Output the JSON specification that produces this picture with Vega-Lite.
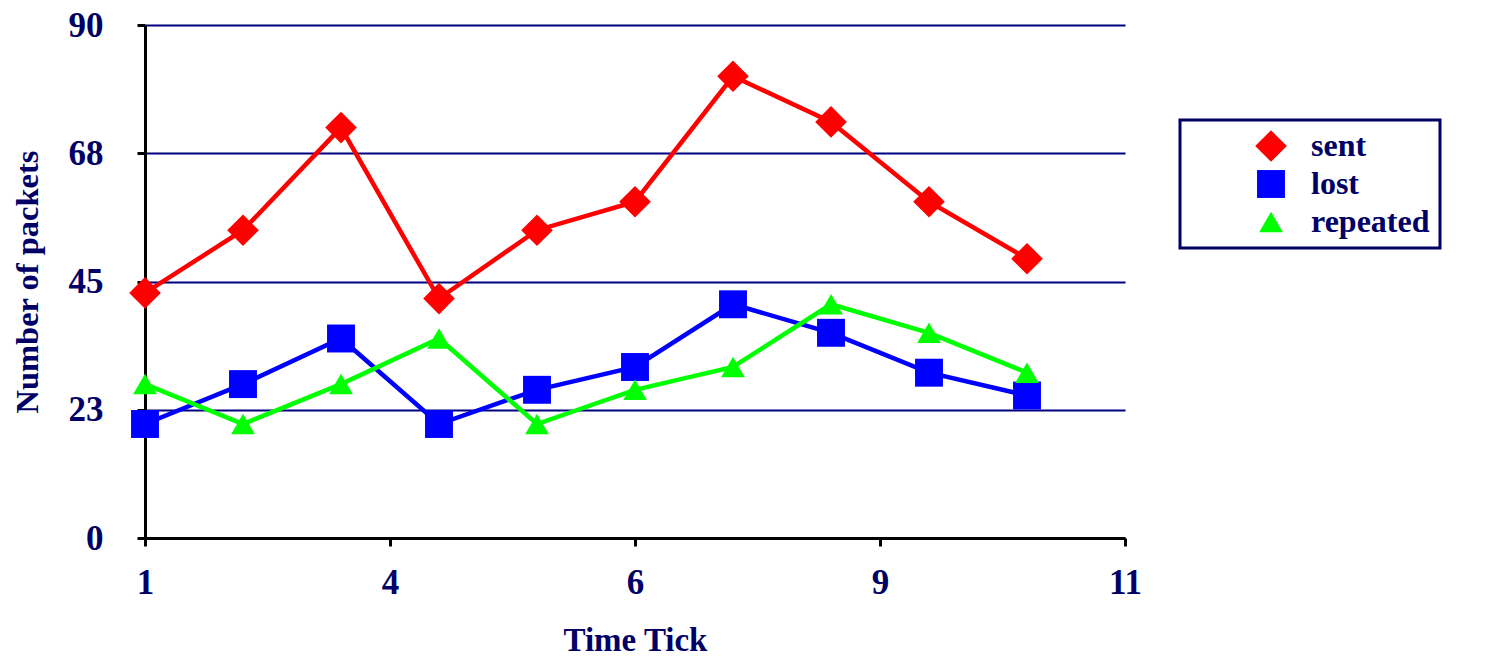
{
  "$schema": "https://vega.github.io/schema/vega-lite/v6.json",
  "autosize": "none",
  "width": 980,
  "height": 513,
  "padding": {"left": 145, "top": 25, "right": 386, "bottom": 120},
  "background": "white",
  "data": {
    "values": [
      {"t": 1, "series": "sent", "value": 43},
      {"t": 2, "series": "sent", "value": 54},
      {"t": 3, "series": "sent", "value": 72},
      {"t": 4, "series": "sent", "value": 42},
      {"t": 5, "series": "sent", "value": 54},
      {"t": 6, "series": "sent", "value": 59},
      {"t": 7, "series": "sent", "value": 81},
      {"t": 8, "series": "sent", "value": 73},
      {"t": 9, "series": "sent", "value": 59},
      {"t": 10, "series": "sent", "value": 49},
      {"t": 1, "series": "lost", "value": 20},
      {"t": 2, "series": "lost", "value": 27},
      {"t": 3, "series": "lost", "value": 35},
      {"t": 4, "series": "lost", "value": 20},
      {"t": 5, "series": "lost", "value": 26},
      {"t": 6, "series": "lost", "value": 30},
      {"t": 7, "series": "lost", "value": 41},
      {"t": 8, "series": "lost", "value": 36},
      {"t": 9, "series": "lost", "value": 29},
      {"t": 10, "series": "lost", "value": 25},
      {"t": 1, "series": "repeated", "value": 27},
      {"t": 2, "series": "repeated", "value": 20},
      {"t": 3, "series": "repeated", "value": 27},
      {"t": 4, "series": "repeated", "value": 35},
      {"t": 5, "series": "repeated", "value": 20},
      {"t": 6, "series": "repeated", "value": 26},
      {"t": 7, "series": "repeated", "value": 30},
      {"t": 8, "series": "repeated", "value": 41},
      {"t": 9, "series": "repeated", "value": 36},
      {"t": 10, "series": "repeated", "value": 29}
    ]
  },
  "encoding": {
    "x": {
      "field": "t",
      "type": "quantitative",
      "title": "Time Tick",
      "scale": {"domain": [1, 11], "nice": false, "zero": false},
      "axis": {
        "values": [1, 3.5, 6, 8.5, 11],
        "format": ".0f",
        "grid": false,
        "labelPadding": 19,
        "titlePadding": 24,
        "titleFontSize": 33
      }
    },
    "y": {
      "field": "value",
      "type": "quantitative",
      "title": "Number of packets",
      "scale": {"domain": [0, 90], "nice": false},
      "axis": {
        "values": [0, 22.5, 45, 67.5, 90],
        "format": ".0f",
        "grid": true,
        "labelPadding": 34,
        "titlePadding": 24,
        "titleFontSize": 32.5
      }
    },
    "color": {
      "field": "series",
      "type": "nominal",
      "title": null,
      "scale": {"domain": ["sent", "lost", "repeated"], "range": ["#ff0000", "#0000ff", "#00ff00"]},
      "legend": {
        "orient": "none",
        "legendX": 1035,
        "legendY": 95,
        "symbolOffset": 65,
        "labelOffset": 24
      }
    }
  },
  "layer": [
    {
      "mark": {"type": "line", "strokeWidth": 4.5}
    },
    {
      "mark": {"type": "point", "filled": true, "opacity": 1},
      "encoding": {
        "shape": {
          "field": "series",
          "type": "nominal",
          "scale": {"domain": ["sent", "lost", "repeated"], "range": ["diamond", "square", "triangle-up"]},
          "title": null
        },
        "size": {
          "field": "series",
          "type": "nominal",
          "scale": {"domain": ["sent", "lost", "repeated"], "range": [1000, 560, 800]},
          "title": null
        }
      }
    }
  ],
  "config": {
    "view": {"stroke": null},
    "font": "Liberation Serif",
    "axis": {
      "domainColor": "#000000",
      "domainWidth": 3,
      "tickColor": "#000000",
      "tickWidth": 3,
      "tickSize": 8,
      "gridColor": "#000080",
      "gridWidth": 2,
      "gridOpacity": 1,
      "labelFont": "Liberation Serif",
      "labelFontWeight": "bold",
      "labelFontSize": 35,
      "labelColor": "#000066",
      "titleFont": "Liberation Serif",
      "titleFontWeight": "bold",
      "titleFontSize": 32,
      "titleColor": "#000066",
      "labelOverlap": false,
      "labelFlush": false
    },
    "legend": {
      "labelFont": "Liberation Serif",
      "labelFontWeight": "bold",
      "labelFontSize": 32,
      "labelColor": "#000066",
      "strokeColor": "#000066",
      "strokeWidth": 3,
      "padding": 10,
      "rowPadding": 6,
      "symbolStrokeWidth": 0,
      "labelLimit": 400
    }
  }
}
